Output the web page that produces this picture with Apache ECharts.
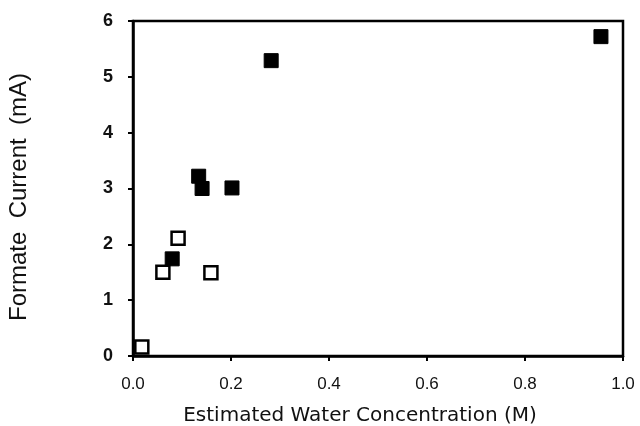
<!DOCTYPE html>
<html>
<head>
<meta charset="utf-8">
<script src="https://cdn.jsdelivr.net/npm/echarts@6/dist/echarts.min.js"></script>
<style>
  html, body { margin: 0; padding: 0; background: #fff; }
  #chart { width: 640px; height: 426px; }
</style>
</head>
<body>
<div id="chart"></div>
<script>
// filled squares
const filledX = [0.08, 0.134, 0.141, 0.202, 0.282, 0.955];
const filledY = [1.74, 3.22, 3.0, 3.01, 5.29, 5.72];
// open squares
const openX = [0.018, 0.061, 0.092, 0.159];
const openY = [0.16, 1.5, 2.11, 1.49];

const xTicks = ['0.0', '0.2', '0.4', '0.6', '0.8', '1.0'];

const toPairs = (xs, ys) => xs.map((x, i) => [x, ys[i]]);

const chart = echarts.init(document.getElementById('chart'));

const font = 'Liberation Sans, Arial, sans-serif';

chart.setOption({
  backgroundColor: '#fff',
  animation: false,
  grid: {
    left: 133, right: 17, top: 21, bottom: 70,
    outerBoundsMode: 'none',
    show: true, borderColor: '#000', borderWidth: 2.5
  },
  xAxis: {
    type: 'value', min: 0, max: 1, interval: 0.2,
    name: 'Estimated Water Concentration (M)',
    nameLocation: 'middle', nameGap: 50,
    nameTextStyle: { color: '#111', fontSize: 20, fontFamily: 'DejaVu Sans, sans-serif', padding: [0, 36, 0, 0] },
    axisLine: { lineStyle: { color: '#000', width: 2.5 } },
    axisTick: { inside: false, length: 5, lineStyle: { color: '#000', width: 2 } },
    axisLabel: {
      color: '#111', fontSize: 17, fontFamily: font, margin: 20,
      formatter: (v) => xTicks[Math.round(v / 0.2)]
    },
    splitLine: { show: false }
  },
  yAxis: {
    type: 'value', min: 0, max: 6, interval: 1,
    name: 'Formate  Current  (mA)',
    nameLocation: 'middle', nameGap: 102,
    nameTextStyle: { color: '#111', fontSize: 24, fontFamily: font, padding: [0, 17, 0, 0] },
    axisLine: { lineStyle: { color: '#000', width: 2.5 } },
    axisTick: { inside: false, length: 5, lineStyle: { color: '#000', width: 2 } },
    axisLabel: { color: '#111', fontSize: 18, fontFamily: font, margin: 20, fontWeight: 'bold' },
    splitLine: { show: false }
  },
  series: [
    {
      type: 'scatter',
      symbol: 'rect',
      symbolSize: 14,
      itemStyle: { color: '#000', borderColor: '#000', borderWidth: 1, opacity: 1 },
      data: toPairs(filledX, filledY)
    },
    {
      type: 'scatter',
      symbol: 'rect',
      symbolSize: 13,
      itemStyle: { color: '#fff', borderColor: '#000', borderWidth: 2.5, opacity: 1 },
      data: toPairs(openX, openY)
    }
  ]
});
</script>
</body>
</html>
